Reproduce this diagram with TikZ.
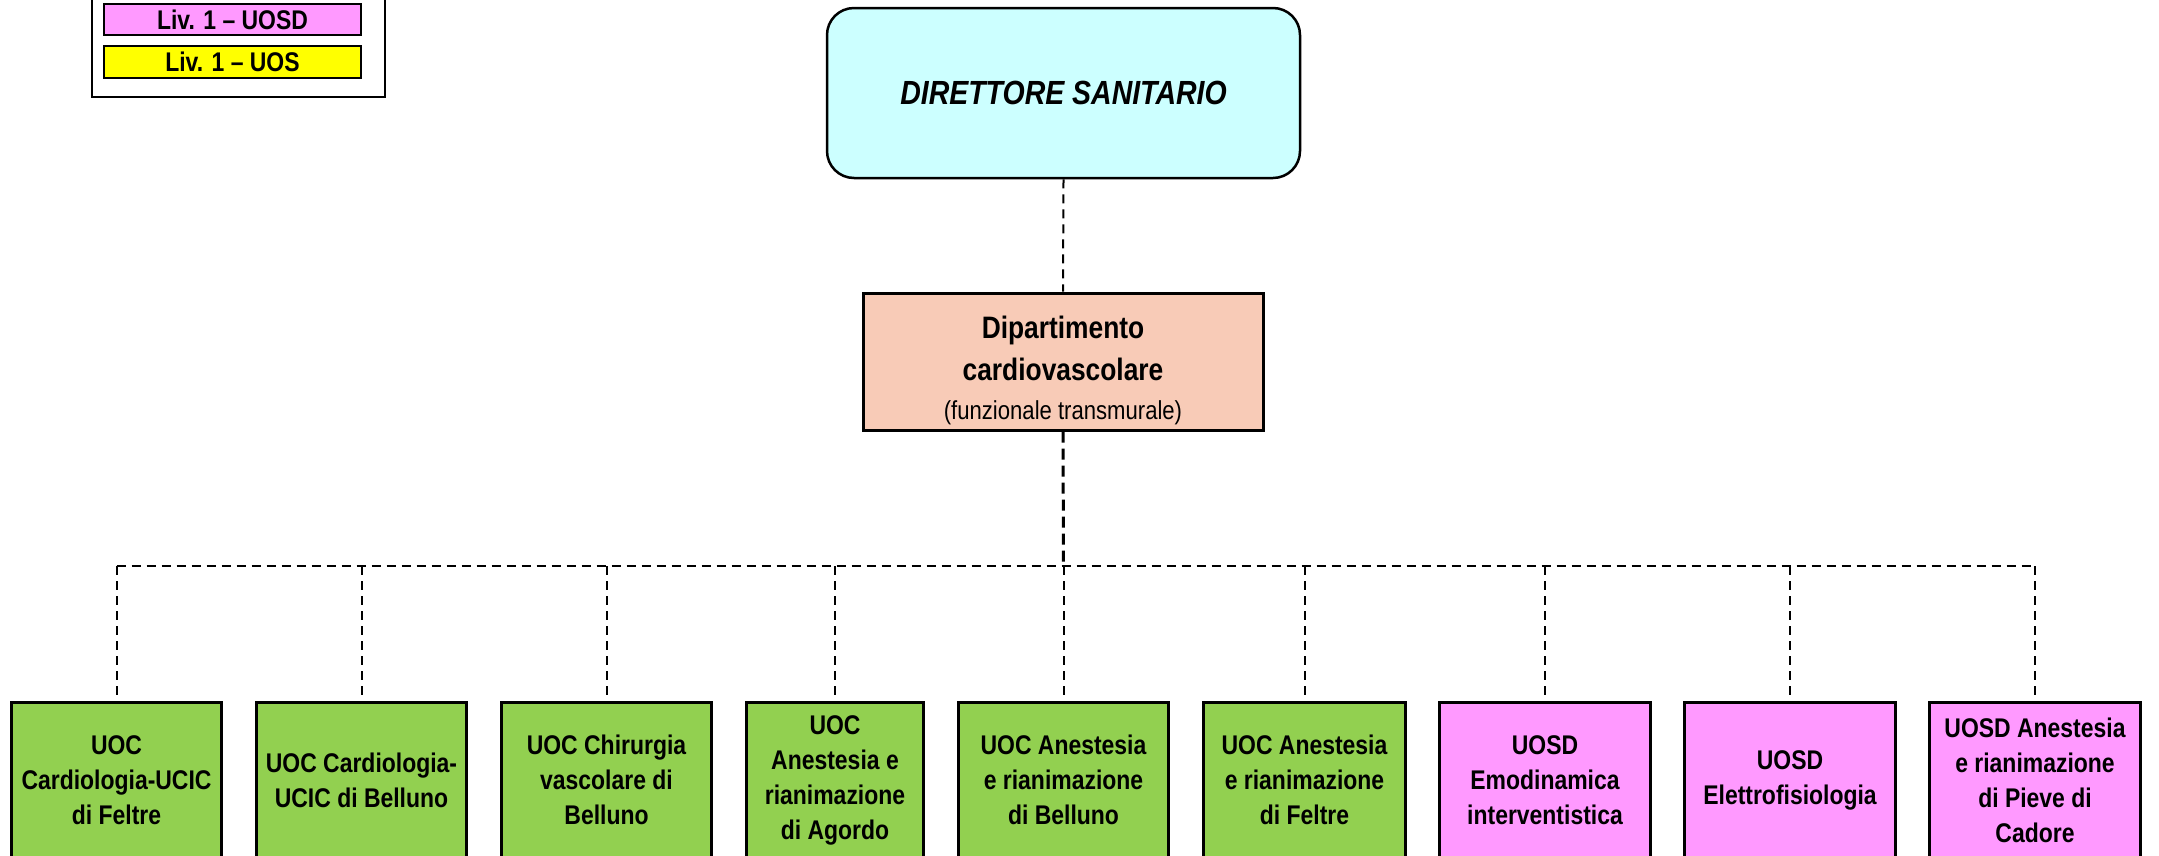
\documentclass[tikz,border=0pt]{standalone}
\usepackage{fontspec}
\setmainfont{Liberation Sans}[FakeStretch=0.85]
\definecolor{cgreen}{HTML}{92D050}
\definecolor{cpink}{HTML}{FF99FF}
\definecolor{cyel}{HTML}{FFFF00}
\definecolor{ccyan}{HTML}{CCFFFF}
\definecolor{cpeach}{HTML}{F8CBB7}
\tikzset{
  unitbox/.style={draw, line width=3pt, inner sep=0pt, align=center,
    minimum height=156pt, font=\fontsize{27}{35}\selectfont\bfseries},
  uocbox/.style={unitbox, fill=cgreen},
  uosdbox/.style={unitbox, fill=cpink},
  legbox/.style={draw, line width=2.5pt, inner sep=0pt, minimum width=257pt,
    font=\fontsize{27}{30}\selectfont\bfseries},
  conn/.style={line width=2pt, dash pattern=on 9pt off 6pt},
  trunk/.style={line width=3pt, dash pattern=on 11pt off 6pt},
}
\begin{document}
\begin{tikzpicture}[x=1pt,y=-1pt]
\useasboundingbox (0,0) rectangle (2159,855);
\clip (0,0) rectangle (2159,855);
\fill[white] (0,0) rectangle (2159,855);

% legend
\draw[line width=2.5pt] (92,-10) rectangle (385,97);
\node[legbox, fill=cpink, minimum height=31pt] (legUOSD) at (232.5,19.5) {Liv. 1 – UOSD};
\node[legbox, fill=cyel, minimum height=32pt] (legUOS) at (232.5,62) {Liv. 1 – UOS};

% top
\node[draw, line width=2.5pt, fill=ccyan, rounded corners=27pt, minimum width=473pt,
  minimum height=170pt, inner sep=0pt,
  font=\fontsize{33.5}{40}\selectfont\bfseries\itshape] (dir) at (1063.5,93) {DIRETTORE SANITARIO};

\node[draw, line width=3pt, fill=cpeach, minimum width=400pt, minimum height=137pt,
  inner sep=0pt, align=center, font=\fontsize{31}{42}\selectfont\bfseries] (dept) at (1063,361.5)
  {\rule{0pt}{41pt}Dipartimento\\cardiovascolare\\[-3pt]{\fontsize{26}{34}\selectfont\mdseries (funzionale transmurale)}};

\coordinate (bus) at (1063.5,566);

% bottom units
\node[uocbox, minimum width=210pt] (b1) at (116.5,780) {UOC\\Cardiologia-UCIC\\di Feltre};
\node[uocbox, minimum width=210pt] (b2) at (361.5,780) {UOC Cardiologia-\\UCIC di Belluno};
\node[uocbox, minimum width=210pt] (b3) at (606.5,780) {UOC Chirurgia\\vascolare di\\Belluno};
\node[uocbox, minimum width=177pt] (b4) at (835,780) {UOC\\Anestesia e\\rianimazione\\di Agordo};
\node[uocbox, minimum width=210pt] (b5) at (1063.5,780) {UOC Anestesia\\e rianimazione\\di Belluno};
\node[uocbox, minimum width=202pt] (b6) at (1304.5,780) {UOC Anestesia\\e rianimazione\\di Feltre};
\node[uosdbox, minimum width=211pt] (b7) at (1545,780) {UOSD\\Emodinamica\\interventistica};
\node[uosdbox, minimum width=211pt] (b8) at (1790,780) {UOSD\\Elettrofisiologia};
\node[uosdbox, minimum width=211pt] (b9) at (2035,780) {UOSD Anestesia\\e rianimazione\\di Pieve di\\Cadore};

% connectors
\draw[conn] (dir.south) -- (dept.north);
\draw[trunk] (dept.south) -- (bus);
\draw[conn] (b1.north |- bus) -- (b9.north |- bus);
\foreach \b in {b1,b2,b3,b4,b5,b6,b7,b8,b9}{
  \draw[conn] (\b.north |- bus) -- (\b.north);
}
\end{tikzpicture}
\end{document}
